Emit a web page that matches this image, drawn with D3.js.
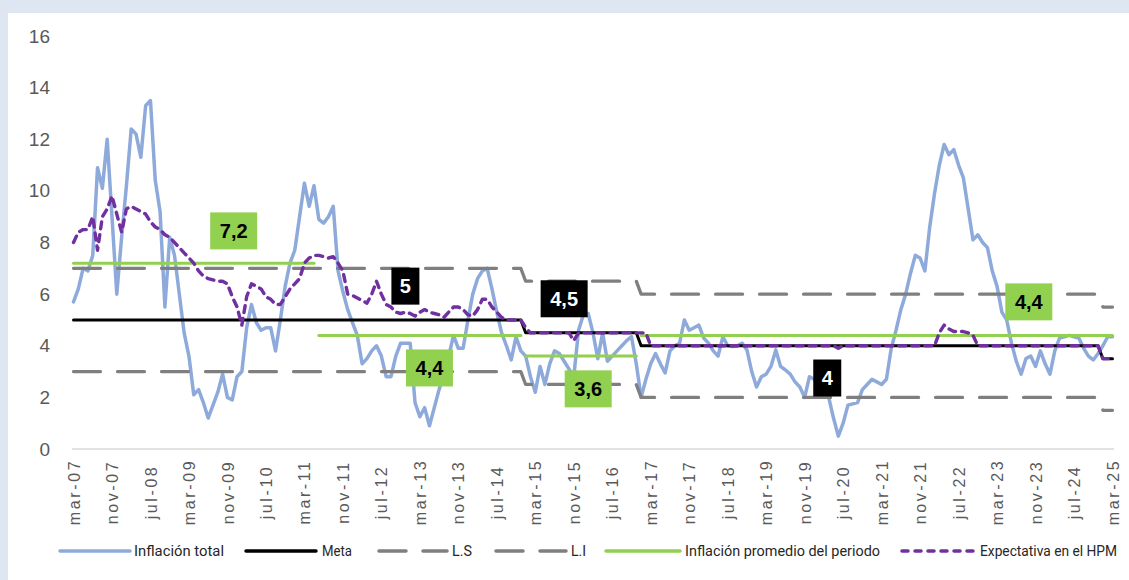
<!DOCTYPE html>
<html>
<head>
<meta charset="utf-8">
<script src="https://cdn.jsdelivr.net/npm/d3@7"></script>
<style>
  body { margin: 0; background: #dde6f1; }
  svg { display: block; }
</style>
</head>
<body>
<script>
// inflacion interanual mensual, mar-07 .. mar-25
var inflacionTotal = [
  5.7, 6.2, 7.0, 6.9, 7.5, 10.9, 10.1, 12.0, 9.0, 6.0,
  8.2, 10.2, 12.4, 12.2, 11.3, 13.3, 13.5, 10.4, 9.2, 5.5,
  8.2, 7.5, 6.0, 4.5, 3.6, 2.1, 2.3, 1.8, 1.2, 1.7,
  2.2, 2.9, 2.0, 1.9, 2.8, 3.0, 4.7, 5.6, 4.9, 4.6,
  4.7, 4.7, 3.8, 5.0, 6.3, 7.2, 7.7, 9.0, 10.3, 9.4,
  10.2, 8.9, 8.75, 9.0, 9.4, 6.9, 6.1, 5.4, 4.9, 4.4,
  3.3, 3.5, 3.8, 4.0, 3.6, 2.8, 2.8, 3.6, 4.1, 4.1,
  4.1, 1.8, 1.25, 1.6, 0.9, 1.6, 2.3, 2.9, 3.6, 4.4,
  3.9, 3.9, 5.0, 6.0, 6.6, 6.9, 7.0, 6.2, 5.3, 4.5,
  4.0, 3.45, 4.35, 3.8, 3.6, 2.8, 2.2, 3.2, 2.5, 3.3,
  3.8, 3.7, 3.4, 3.1, 2.8, 4.6, 5.2, 5.25, 4.5, 3.5,
  4.5, 3.4, 3.6, 3.8, 4.0, 4.2, 4.35, 3.3, 2.0, 2.7,
  3.3, 3.7, 3.3, 2.95, 3.8, 4.0, 4.1, 5.0, 4.6, 4.7,
  4.8, 4.3, 4.1, 3.8, 3.6, 4.35, 4.0, 3.97, 4.0, 4.1,
  3.84, 3.0, 2.4, 2.8, 2.9, 3.2, 3.84, 3.2, 3.06, 2.9,
  2.6, 2.4, 2.0, 2.8, 2.7, 2.4, 2.3, 2.0, 1.2, 0.5,
  1.0, 1.7, 1.75, 1.8, 2.3, 2.5, 2.7, 2.6, 2.5, 2.7,
  3.9, 4.6, 5.4, 6.0, 6.8, 7.5, 7.4, 6.9, 8.6, 9.9,
  11.0, 11.8, 11.4, 11.6, 11.0, 10.5, 9.3, 8.1, 8.3, 8.0,
  7.8, 6.9, 6.3, 5.3, 5.0, 4.1, 3.4, 2.9, 3.5, 3.6,
  3.2, 3.8, 3.3, 2.9, 3.8, 4.3, 4.35, 4.4, 4.35, 4.3,
  3.9, 3.6, 3.45, 3.7, 4.0, 4.35, 4.35
];

var expectativa = [
  8.0, 8.4, 8.5, 8.5, 9.0, 7.7, 9.0, 9.3, 9.8, 9.1,
  8.4, 9.3, 9.4, 9.3, 9.2, 9.1, 8.8, 8.6, 8.5, 8.3,
  8.2, 8.0, 7.8, 7.6, 7.4, 7.2, 6.9, 6.7, 6.6, 6.55,
  6.5, 6.5, 6.4, 5.9, 5.5, 4.8, 5.9, 6.4, 6.3, 6.2,
  5.9, 5.8, 5.6, 5.6, 5.9, 6.2, 6.4, 6.6, 7.2, 7.4,
  7.5, 7.5, 7.45, 7.4, 7.45, 7.2, 6.9, 6.0, 5.95, 5.85,
  5.75, 5.65, 6.0, 6.5, 6.0, 5.6, 5.5, 5.3, 5.25, 5.3,
  5.25, 5.15, 5.3, 5.4, 5.3, 5.25, 5.2, 5.1, 5.3, 5.5,
  5.5, 5.4, 5.2, 5.15, 5.4, 5.8, 5.8, 5.5, 5.3, 5.1,
  5.0, 5.0, 5.0, 5.0, 4.7, 4.5, 4.5, 4.5, 4.5, 4.5,
  4.5, 4.5, 4.5, 4.5, 4.2, 4.5, 4.5, 4.5, 4.5, 4.5,
  4.5, 4.5, 4.5, 4.5, 4.5, 4.5, 4.5, 4.5, 4.5, 4.5,
  4.0, 4.0, 4.0, 4.0, 4.0, 4.0, 4.0, 4.0, 4.0, 4.0,
  4.0, 4.0, 4.0, 4.0, 4.0, 4.0, 4.0, 4.0, 4.0, 4.0,
  4.0, 4.0, 4.0, 4.0, 4.0, 4.0, 4.0, 4.0, 4.0, 4.0,
  4.0, 4.0, 4.0, 4.0, 4.0, 4.0, 4.0, 4.0, 4.0, 3.9,
  4.0, 4.0, 4.0, 4.0, 4.0, 4.0, 4.0, 4.0, 4.0, 4.0,
  4.0, 4.0, 4.0, 4.0, 4.0, 4.0, 4.0, 4.0, 4.0, 4.0,
  4.5, 4.8, 4.65, 4.55, 4.55, 4.55, 4.5, 4.4, 4.0, 4.0,
  4.0, 4.0, 4.0, 4.0, 4.0, 4.0, 4.0, 4.0, 4.0, 4.0,
  4.0, 4.0, 4.0, 4.0, 4.0, 4.0, 4.0, 4.0, 4.0, 4.0,
  4.0, 4.0, 4.0, 4.0, 3.5, 3.5, 3.5
];

// meta y rango de tolerancia por periodo
var periodoInicio = ["mar-07", "ene-15", "ene-17", "ene-25"];
var metaValor = [5, 4.5, 4, 3.5];
var lsValor = [7, 6.5, 6, 5.5];
var liValor = [3, 2.5, 2, 1.5];

// inflacion promedio de cada periodo
var promedioInicio = ["mar-07", "jun-11", "ene-15", "ene-17"];
var promedioFin = ["may-11", "dic-14", "dic-16", "mar-25"];
var promedioValor = [7.2, 4.4, 3.6, 4.4];

var tickLabels = ["mar-07","nov-07","jul-08","mar-09","nov-09","jul-10","mar-11","nov-11",
  "jul-12","mar-13","nov-13","jul-14","mar-15","nov-15","jul-16","mar-17","nov-17","jul-18",
  "mar-19","nov-19","jul-20","mar-21","nov-21","jul-22","mar-23","nov-23","jul-24","mar-25"];
var yTicks = [0, 2, 4, 6, 8, 10, 12, 14, 16];

// etiquetas de datos (mes en indice, valor en escala y)
var etiquetas = [
  {texto: "7,2", mes: 33.3, valor: 8.45, fondo: "#92d050", color: "#000"},
  {texto: "5",   mes: 69.0, valor: 6.31, fondo: "#000",    color: "#fff"},
  {texto: "4,4", mes: 74.0, valor: 3.14, fondo: "#92d050", color: "#000"},
  {texto: "4,5", mes: 102.0, valor: 5.82, fondo: "#000",   color: "#fff"},
  {texto: "3,6", mes: 107.0, valor: 2.33, fondo: "#92d050", color: "#000"},
  {texto: "4",   mes: 156.7, valor: 2.75, fondo: "#000",   color: "#fff"},
  {texto: "4,4", mes: 198.6, valor: 5.70, fondo: "#92d050", color: "#000"}
];

var meses = ["ene","feb","mar","abr","may","jun","jul","ago","sep","oct","nov","dic"];
var categorias = [];
for (var k = 0; k < inflacionTotal.length; k++) {
  var m = 2 + k;
  categorias.push(meses[m % 12] + "-" + String(7 + Math.floor(m / 12)).padStart(2, "0"));
}

function porPeriodo(valores) {
  var idx = periodoInicio.map(function(p) { return categorias.indexOf(p); });
  return categorias.map(function(c, i) {
    var j = d3.bisectRight(idx, i) - 1;
    return valores[j];
  });
}
var meta = porPeriodo(metaValor);
var ls = porPeriodo(lsValor);
var li = porPeriodo(liValor);
// cada tramo del promedio como serie propia (sin unir tramos)
var promedioTramos = promedioValor.map(function(v, j) {
  var a = categorias.indexOf(promedioInicio[j]), b = categorias.indexOf(promedioFin[j]);
  return categorias.map(function(c, i) { return (i >= a && i <= b) ? v : null; });
});

var w = 1129, h = 580;
var svg = d3.select("body").append("svg").attr("width", w).attr("height", h);

svg.append("rect").attr("width", w).attr("height", h).attr("fill", "#dde6f1");
svg.append("rect").attr("x", 8).attr("y", 13).attr("width", w - 8).attr("height", h - 13).attr("fill", "#fff");

var x = d3.scaleLinear().domain([0, categorias.length - 1]).range([73.5, 1112.5]);
var y = d3.scaleLinear().domain([0, 16]).range([449, 36]);

// eje y
var yAxis = svg.append("g")
  .attr("transform", "translate(72,0)")
  .call(d3.axisLeft(y).tickValues(yTicks).tickSize(0).tickPadding(22));
yAxis.select(".domain").remove();
yAxis.selectAll("text")
  .attr("fill", "#595959")
  .style("font-family", "'Liberation Sans', Arial, sans-serif")
  .style("font-size", "19px");

// eje x
var xAxis = svg.append("g")
  .attr("transform", "translate(0," + y(0) + ")")
  .call(d3.axisBottom(x)
    .tickValues(tickLabels.map(function(t) { return categorias.indexOf(t); }))
    .tickFormat(function(i) { return categorias[i]; })
    .tickSize(0)
    .tickSizeOuter(0));
xAxis.select(".domain").attr("stroke", "#d9d9d9").attr("stroke-width", 1.5)
  .attr("d", "M72,0H1114");
xAxis.selectAll("text")
  .attr("fill", "#595959")
  .attr("x", 0).attr("y", 0).attr("dy", "0.35em")
  .attr("transform", "translate(0,43) rotate(-90)")
  .style("text-anchor", "middle")
  .style("letter-spacing", "2.6px")
  .style("font-family", "'Liberation Sans', Arial, sans-serif")
  .style("font-size", "16px");

var line = d3.line()
  .defined(function(d) { return d != null; })
  .x(function(d, i) { return x(i); })
  .y(function(d) { return y(d); });

var series = [
  {data: inflacionTotal, color: "#8eaadb", width: 3.5, dash: null},
  {data: meta, color: "#000", width: 3, dash: null},
  {data: ls, color: "#7f7f7f", width: 3.3, dash: "27,17"},
  {data: li, color: "#7f7f7f", width: 3.3, dash: "27,17"}
].concat(promedioTramos.map(function(t) {
  return {data: t, color: "#92d050", width: 3, dash: null};
})).concat([
  {data: expectativa, color: "#7030a0", width: 3.4, dash: "7,6"}
]);

svg.selectAll(".serie")
  .data(series)
  .enter().append("path")
  .attr("class", "serie")
  .attr("d", function(d) { return line(d.data); })
  .attr("fill", "none")
  .attr("stroke", function(d) { return d.color; })
  .attr("stroke-width", function(d) { return d.width; })
  .attr("stroke-dasharray", function(d) { return d.dash; })
  .attr("stroke-linecap", "round")
  .attr("stroke-linejoin", "round");

// etiquetas
var et = svg.selectAll(".etiqueta")
  .data(etiquetas)
  .enter().append("g")
  .attr("class", "etiqueta")
  .attr("transform", function(d) { return "translate(" + x(d.mes) + "," + y(d.valor) + ")"; });
et.append("rect")
  .attr("x", function(d) { return d.texto.length > 1 ? -23.5 : -14; })
  .attr("y", -18.5)
  .attr("width", function(d) { return d.texto.length > 1 ? 47 : 28; })
  .attr("height", 37)
  .attr("fill", function(d) { return d.fondo; });
et.append("text")
  .attr("text-anchor", "middle")
  .attr("dy", "0.36em")
  .attr("fill", function(d) { return d.color; })
  .style("font-family", "'Liberation Sans', Arial, sans-serif")
  .style("font-weight", "bold")
  .style("font-size", "20px")
  .text(function(d) { return d.texto; });

// leyenda
var legendItems = [
  {name: "Inflación total", color: "#8eaadb", dash: null, x1: 60, x2: 130, tx: 134, tw: 90},
  {name: "Meta", color: "#000", dash: null, x1: 246, x2: 316, tx: 322, tw: 30},
  {name: "L.S", color: "#7f7f7f", dash: "27,17", x1: 379, x2: 447, tx: 452, tw: 20},
  {name: "L.I", color: "#7f7f7f", dash: "27,17", x1: 496, x2: 566, tx: 571, tw: 15},
  {name: "Inflación promedio del periodo", color: "#92d050", dash: null, x1: 606, x2: 680, tx: 685, tw: 195},
  {name: "Expectativa en el HPM", color: "#7030a0", dash: "6,7", x1: 902, x2: 975, tx: 980, tw: 137}
];
var ly = 551;
var legend = svg.selectAll(".legend")
  .data(legendItems)
  .enter().append("g")
  .attr("class", "legend");
legend.append("line")
  .attr("x1", function(d) { return d.x1; })
  .attr("x2", function(d) { return d.x2; })
  .attr("y1", ly).attr("y2", ly)
  .attr("stroke", function(d) { return d.color; })
  .attr("stroke-width", 3.5)
  .attr("stroke-linecap", "round")
  .attr("stroke-dasharray", function(d) { return d.dash; });
legend.append("text")
  .attr("x", function(d) { return d.tx; })
  .attr("y", ly)
  .attr("dy", "0.35em")
  .attr("textLength", function(d) { return d.tw; })
  .attr("lengthAdjust", "spacingAndGlyphs")
  .attr("fill", "#262626")
  .style("font-family", "'Roboto', sans-serif")
  .style("font-size", "14px")
  .text(function(d) { return d.name; });
</script>
</body>
</html>
